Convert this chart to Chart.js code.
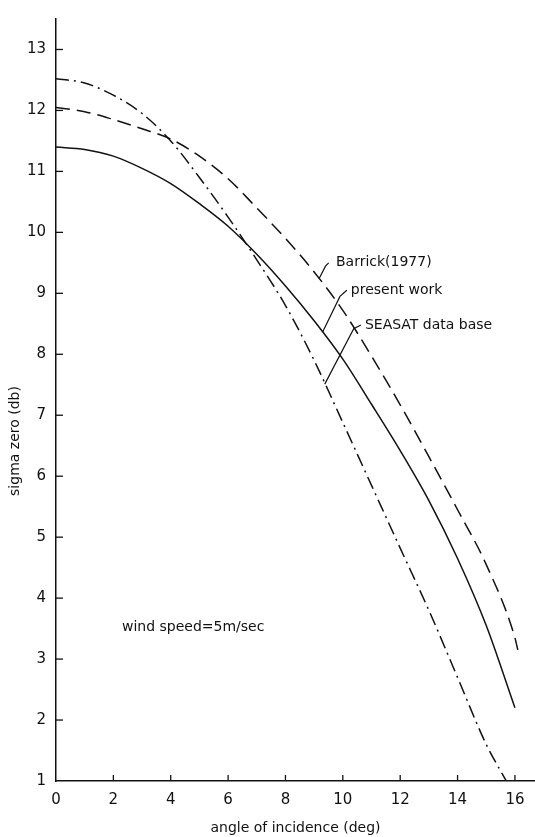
<!DOCTYPE html>
<html>
<head>
<meta charset="utf-8">
<script src="https://cdn.jsdelivr.net/npm/chart.js@4"></script>
<style>
  html, body { margin: 0; padding: 0; background: #fff; }
  #wrap { width: 535px; height: 837px; position: relative; }
</style>
</head>
<body>
<div id="wrap"><canvas id="chart"></canvas></div>
<script>
// data
const angles = [0, 1, 2, 3, 4, 5, 6, 7, 8, 9, 10, 11, 12, 13, 14, 15, 16];
const presentWork = [11.4, 11.36, 11.25, 11.05, 10.8, 10.47, 10.1, 9.64, 9.12, 8.55, 7.92, 7.18, 6.42, 5.6, 4.65, 3.55, 2.2];
const barrick = [12.05, 11.98, 11.85, 11.7, 11.53, 11.25, 10.88, 10.4, 9.9, 9.35, 8.72, 7.97, 7.17, 6.32, 5.45, 4.55, 3.35];
const barrickEnd = [16.1, 3.15];
const seasat = [12.52, 12.45, 12.25, 11.95, 11.5, 10.9, 10.25, 9.55, 8.8, 7.9, 6.88, 5.85, 4.82, 3.8, 2.7, 1.6];
const seasatEnd = [15.7, 1.0];

const xTicks = [0, 2, 4, 6, 8, 10, 12, 14, 16];
const yTicks = [1, 2, 3, 4, 5, 6, 7, 8, 9, 10, 11, 12, 13];

// curve labels with leader lines (data units)
const curveLabels = ['Barrick(1977)', 'present work', 'SEASAT data base'];
const labelAt = [[9.76, 9.5], [10.28, 9.05], [10.77, 8.48]];
const leaders = [
    [[9.51, 9.5], [9.4, 9.45], [9.17, 9.24]],
    [[10.14, 9.05], [9.9, 8.95], [9.3, 8.37]],
    [[10.63, 8.48], [10.38, 8.42], [9.37, 7.51]]
];
const noteText = 'wind speed=5m/sec';
const noteAt = [2.3, 3.52];

function pts(xs, ys) {
    return ys.map((y, i) => ({ x: xs[i], y: y }));
}

const FONT = '"DejaVu Sans", sans-serif';
const INK = '#111';

// ticks pointing inward, plus labels and y title
const extras = {
    id: 'extras',
    afterDraw(chart) {
        const ctx = chart.ctx;
        const xs = chart.scales.x, ys = chart.scales.y;
        const area = chart.chartArea;
        ctx.save();
        ctx.strokeStyle = INK;
        ctx.lineWidth = 1.3;
        xTicks.forEach(v => {
            if (v === 0) return;
            const px = xs.getPixelForValue(v);
            ctx.beginPath();
            ctx.moveTo(px, area.bottom);
            ctx.lineTo(px, area.bottom - 6);
            ctx.stroke();
        });
        yTicks.forEach(v => {
            if (v === 1) return;
            const py = ys.getPixelForValue(v);
            ctx.beginPath();
            ctx.moveTo(area.left, py);
            ctx.lineTo(area.left + 7, py);
            ctx.stroke();
        });

        // leader lines
        ctx.lineWidth = 1.2;
        leaders.forEach(line => {
            ctx.beginPath();
            line.forEach((p, i) => {
                const px = xs.getPixelForValue(p[0]), py = ys.getPixelForValue(p[1]);
                if (i === 0) ctx.moveTo(px, py); else ctx.lineTo(px, py);
            });
            ctx.stroke();
        });

        ctx.fillStyle = INK;
        ctx.font = '14px ' + FONT;
        ctx.textBaseline = 'middle';
        ctx.textAlign = 'left';
        curveLabels.forEach((t, i) => {
            ctx.fillText(t, xs.getPixelForValue(labelAt[i][0]), ys.getPixelForValue(labelAt[i][1]));
        });
        ctx.fillText(noteText, xs.getPixelForValue(noteAt[0]), ys.getPixelForValue(noteAt[1]));

        // y axis title
        ctx.translate(15, 441);
        ctx.rotate(-Math.PI / 2);
        ctx.textAlign = 'center';
        ctx.fillText('sigma zero (db)', 0, 0);
        ctx.restore();
    }
};

const lineStyle = {
    borderColor: INK,
    backgroundColor: INK,
    borderWidth: 1.5,
    pointRadius: 0,
    fill: false,
    cubicInterpolationMode: 'monotone'
};

new Chart(document.getElementById('chart'), {
    type: 'line',
    data: {
        datasets: [
            Object.assign({
                label: 'Barrick(1977)',
                data: pts(angles, barrick).concat([{ x: barrickEnd[0], y: barrickEnd[1] }]),
                borderDash: [14, 7]
            }, lineStyle),
            Object.assign({
                label: 'present work',
                data: pts(angles, presentWork),
                borderDash: []
            }, lineStyle),
            Object.assign({
                label: 'SEASAT data base',
                data: pts(angles, seasat).concat([{ x: seasatEnd[0], y: seasatEnd[1] }]),
                borderDash: [13, 5, 2, 5]
            }, lineStyle)
        ]
    },
    options: {
        responsive: true,
        maintainAspectRatio: false,
        animation: false,
        layout: { padding: { top: 8, right: 0, left: 0, bottom: 0 } },
        scales: {
            x: {
                type: 'linear',
                min: 0,
                max: 16.7,
                afterFit: s => { s.height = 56; },
                afterBuildTicks: s => { s.ticks = xTicks.map(v => ({ value: v })); },
                grid: { display: false, drawTicks: false },
                border: { display: true, color: INK, width: 1.5 },
                ticks: {
                    includeBounds: false,
                    padding: 10,
                    color: INK,
                    font: { family: FONT, size: 15 }
                },
                title: {
                    display: true,
                    text: 'angle of incidence (deg)',
                    color: INK,
                    font: { family: FONT, size: 14 },
                    padding: { top: 2, bottom: 0 }
                }
            },
            y: {
                type: 'linear',
                min: 1,
                max: 13.5,
                afterFit: s => { s.width = 56; },
                afterBuildTicks: s => { s.ticks = yTicks.map(v => ({ value: v })); },
                grid: { display: false, drawTicks: false },
                border: { display: true, color: INK, width: 1.5 },
                ticks: {
                    includeBounds: false,
                    padding: 10,
                    color: INK,
                    font: { family: FONT, size: 15 }
                }
            }
        },
        plugins: {
            legend: { display: false },
            tooltip: { enabled: false }
        }
    },
    plugins: [extras]
});
</script>
</body>
</html>
